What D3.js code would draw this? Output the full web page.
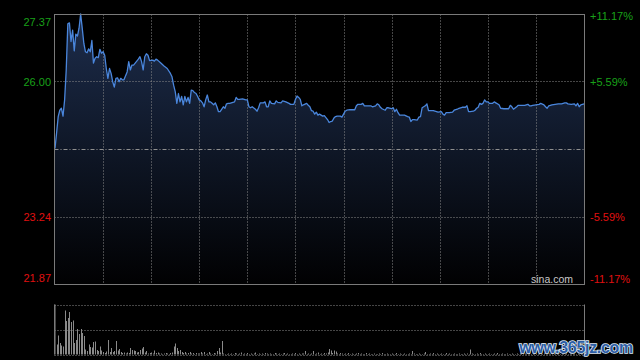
<!DOCTYPE html>
<html><head><meta charset="utf-8">
<script src="https://cdn.jsdelivr.net/npm/d3@7/dist/d3.min.js"></script>
<style>
html,body{margin:0;padding:0;background:#000;}
svg{display:block;font-family:"Liberation Sans",Arial,sans-serif;}
</style></head>
<body>
<svg id="c" width="640" height="360"></svg>
<script>
// ---- data ----
const prevClose = 24.62;
const priceMin = 21.87, priceMax = 27.37;
const priceTicks = [27.37, 26.00, 23.24, 21.87];
const pctTicks = ["+11.17%", "+5.59%", "-5.59%", "-11.17%"];
const timeGrid = [30, 60, 90, 120, 150, 180, 210, 240, 270, 300];
const minutes = [0,1,2,3,4,5,6,7,8,9,10,11,12,13,14,15,16,17,18,19,20,21,22,23,24,25,26,27,28,29,30,31,32,33,34,35,36,37,38,39,40,41,42,43,45,46,47,48,49,50,52,53,54,55,56,57,58,59,61,62,63,64,66,68,70,72,73,74,75,76,77,78,79,80,81,82,83,84,85,86,87,88,89,90,91,92,93,94,95,96,97,98,99,100,101,102,103,105,106,107,108,109,110,112,113,114,115,117,119,120,121,122,123,125,126,127,128,130,131,132,133,134,135,137,138,139,141,142,144,146,147,149,150,151,152,153,154,155,157,158,159,160,161,162,163,164,165,167,168,169,170,171,172,173,174,175,176,178,179,180,181,182,184,186,187,188,189,191,192,193,194,197,198,200,201,202,203,204,206,207,208,210,211,212,213,214,215,216,218,220,221,222,223,224,226,227,228,229,230,231,232,233,234,236,238,239,241,242,243,244,246,248,249,251,252,254,256,257,258,259,261,262,263,264,265,266,267,268,269,270,271,273,274,275,277,278,280,283,284,285,286,288,289,291,293,295,296,297,298,300,302,303,305,306,307,308,310,312,314,316,318,319,320,322,324,325,326,327,328,330];
const prices = [24.63,24.95,25.28,25.41,25.45,25.29,25.62,26.23,27.17,27.19,26.81,27.04,26.62,26.96,26.92,27.08,27.37,27.08,26.77,26.60,26.58,26.66,26.60,26.83,26.37,26.47,26.50,26.48,26.65,26.57,26.60,26.53,26.26,26.06,26.26,26.16,25.99,25.88,26.06,26.07,25.99,26.06,26.03,26.03,26.19,26.40,26.23,26.33,26.33,26.37,26.45,26.50,26.40,26.23,26.50,26.56,26.53,26.42,26.43,26.41,26.45,26.43,26.37,26.31,26.26,26.16,26.09,25.92,25.79,25.55,25.75,25.58,25.69,25.52,25.69,25.58,25.67,25.55,25.82,25.81,25.77,25.75,25.69,25.62,25.60,25.56,25.48,25.62,25.72,25.58,25.58,25.55,25.52,25.56,25.48,25.38,25.38,25.48,25.45,25.54,25.55,25.55,25.56,25.58,25.67,25.63,25.63,25.64,25.62,25.62,25.48,25.46,25.48,25.43,25.39,25.46,25.56,25.56,25.58,25.48,25.48,25.60,25.55,25.54,25.60,25.57,25.56,25.60,25.58,25.55,25.53,25.53,25.63,25.70,25.67,25.63,25.50,25.52,25.55,25.51,25.48,25.40,25.39,25.33,25.37,25.31,25.33,25.29,25.30,25.26,25.22,25.16,25.18,25.19,25.25,25.28,25.29,25.29,25.27,25.33,25.39,25.41,25.42,25.42,25.42,25.50,25.53,25.53,25.55,25.50,25.50,25.50,25.48,25.50,25.54,25.52,25.47,25.44,25.41,25.46,25.46,25.44,25.46,25.38,25.43,25.36,25.31,25.31,25.31,25.28,25.27,25.18,25.22,25.22,25.21,25.27,25.28,25.46,25.48,25.50,25.54,25.40,25.40,25.40,25.38,25.37,25.38,25.33,25.31,25.36,25.36,25.37,25.41,25.43,25.45,25.47,25.47,25.50,25.38,25.38,25.39,25.41,25.45,25.47,25.55,25.53,25.55,25.62,25.58,25.58,25.55,25.55,25.58,25.56,25.52,25.45,25.44,25.44,25.51,25.48,25.43,25.48,25.51,25.51,25.51,25.53,25.50,25.50,25.51,25.52,25.53,25.55,25.52,25.48,25.45,25.50,25.52,25.53,25.54,25.54,25.56,25.56,25.54,25.53,25.54,25.50,25.55,25.48,25.52,25.54];
const volumes = [100,20,38,23,18,16,88,67,73,85,
65,68,23,29,51,41,51,43,37,10,
7,20,15,14,25,26,9,7,16,8,
5,3,6,29,5,13,5,7,27,8,
11,5,3,4,2,4,3,13,9,8,
7,4,5,9,12,15,4,7,2,3,
4,2,8,3,4,2,2,1,2,3,
2,1,3,4,16,22,13,7,9,5,
3,5,2,3,5,2,3,1,3,2,
2,5,2,5,1,2,5,2,1,3,
2,7,13,4,27,2,1,1,2,1,
2,1,3,2,1,2,4,1,2,1,
3,1,2,1,2,4,1,2,1,2,
1,3,2,1,2,1,1,3,2,1,
2,1,2,3,1,2,1,1,2,1,
3,1,2,1,2,2,7,1,2,1,
2,7,1,2,4,1,2,1,3,2,
4,11,8,3,8,6,2,1,3,2,
1,2,1,3,1,2,1,1,2,3,
1,2,1,1,3,1,2,1,1,2,
1,1,2,1,3,1,1,2,1,1,
2,1,1,3,1,2,1,1,2,1,
1,2,1,7,2,1,1,2,1,1,
2,5,1,1,2,1,3,1,2,1,
1,2,1,1,3,1,2,1,1,2,
1,1,2,1,1,2,1,2,1,10,
2,1,1,2,1,3,1,1,2,1,
1,2,1,1,2,1,3,1,1,2,
1,1,2,1,1,2,1,1,2,1,
2,1,1,2,1,1,3,1,1,2,
1,1,2,1,1,2,1,1,2,1,
2,1,1,2,1,1,2,1,1,2,
1,2,1,1,2,1,2,1,1,2,
3];
const volMax = 100;

// ---- drawing ----
const svg = d3.select("#c");
const W = 640, H = 360;
const L = 54.5, R = 584.5, T = 14.5, B = 284.5;
const VT = 304.5, VB = 354.5;
const gridCol = "#8a8a8a", borderCol = "#7a7a7a";
const green = "#19a019", red = "#e01010";

const x = d3.scaleLinear().domain([0, 330]).range([55, 584]);
const y = d3.scaleLinear().domain([priceMin, priceMax]).range([284, 14]);
const yv = d3.scaleLinear().domain([0, volMax]).range([VB, VT]);

const defs = svg.append("defs");
const grad = defs.append("linearGradient").attr("id","fillg")
  .attr("gradientUnits","userSpaceOnUse").attr("x1",0).attr("y1",14).attr("x2",0).attr("y2",284);
grad.append("stop").attr("offset","0").attr("stop-color","#1d2d4c");
grad.append("stop").attr("offset","0.5").attr("stop-color","#0f1727");
grad.append("stop").attr("offset","1").attr("stop-color","#010102");

const data = minutes.map((m,i)=>({m, p: prices[i]}));

// area
svg.append("path").datum(data)
  .attr("d", d3.area().x(d=>x(d.m)).y0(284).y1(d=>y(d.p)))
  .attr("fill","url(#fillg)");

// horizontal grid
[26.00, 23.24].forEach(v=>{
  svg.append("line").attr("x1",L).attr("x2",R)
    .attr("y1",Math.round(y(v))+0.5).attr("y2",Math.round(y(v))+0.5)
    .attr("stroke",gridCol).attr("stroke-dasharray","1,2");
});
svg.append("line").attr("x1",L).attr("x2",R)
  .attr("y1",Math.round(y(prevClose))+0.5).attr("y2",Math.round(y(prevClose))+0.5)
  .attr("stroke","#909090").attr("stroke-dasharray","4,2,1,2");

// vertical grid
timeGrid.forEach(t=>{
  const xx = Math.round(x(t))+0.5;
  svg.append("line").attr("x1",xx).attr("x2",xx).attr("y1",T).attr("y2",B)
    .attr("stroke",gridCol).attr("stroke-dasharray","1,2");
});

// price line
svg.append("path").datum(data)
  .attr("d", d3.line().x(d=>x(d.m)).y(d=>y(d.p)))
  .attr("fill","none").attr("stroke","#4a86dc").attr("stroke-width",1.3)
  .attr("stroke-linejoin","round");

// border
svg.append("rect").attr("x",L).attr("y",T).attr("width",R-L).attr("height",B-T)
  .attr("fill","none").attr("stroke",borderCol);

// left axis labels
const colorFor = v => v > prevClose ? green : red;
const ax = d3.axisLeft(y).tickValues(priceTicks).tickSize(0).tickPadding(0)
  .tickFormat(d3.format(".2f"));
const gl = svg.append("g").attr("transform","translate(51,0)").call(ax);
gl.select(".domain").remove();
gl.selectAll("text").attr("font-size","11px").attr("font-family","'Liberation Sans',Arial,sans-serif")
  .attr("fill", d=>colorFor(d))
  .attr("dy", d => d===priceMax ? "1.05em" : d===priceMin ? "-0.25em" : "0.36em");

const ar = d3.axisRight(y).tickValues(priceTicks).tickSize(0).tickPadding(0)
  .tickFormat((d,i)=>pctTicks[i]);
const gr = svg.append("g").attr("transform","translate(590,0)").call(ar);
gr.select(".domain").remove();
gr.selectAll("text").attr("font-size","11px").attr("font-family","'Liberation Sans',Arial,sans-serif")
  .attr("fill", d=>colorFor(d))
  .attr("dy", d => d===priceMax ? "0.5em" : d===priceMin ? "-0.15em" : "0.36em");

svg.append("text").attr("x",573).attr("y",282.5).attr("text-anchor","end")
  .attr("font-size","10.5px").attr("fill","#c8c8c8").text("sina.com");

// volume panel
[VT, (VT+VB)/2, VB].forEach(v=>{
  svg.append("line").attr("x1",L).attr("x2",R).attr("y1",Math.round(v)+0.5).attr("y2",Math.round(v)+0.5)
    .attr("stroke",gridCol).attr("stroke-dasharray","1,2");
});
svg.selectAll("rect.vol").data(volumes).enter().append("rect").attr("class","vol")
  .attr("x",(d,i)=>Math.round(x(i)) - (i===0?0.5:0))
  .attr("width",1)
  .attr("y",d=>yv(d))
  .attr("height",d=>VB-yv(d))
  .attr("fill","#8a8a8a");
svg.append("line").attr("x1",L).attr("x2",L).attr("y1",VT).attr("y2",VB).attr("stroke",borderCol);
svg.append("line").attr("x1",R).attr("x2",R).attr("y1",VT).attr("y2",VB).attr("stroke",borderCol);

// watermark
svg.append("text").attr("x",633).attr("y",353).attr("text-anchor","end")
  .attr("font-size","16px").attr("font-weight","bold")
  .attr("fill","#2d5ea6").attr("stroke","#dfe8f4").attr("stroke-width",1.6)
  .attr("paint-order","stroke").attr("letter-spacing","-0.3")
  .text("www.365jz.com");
</script>
</body></html>
